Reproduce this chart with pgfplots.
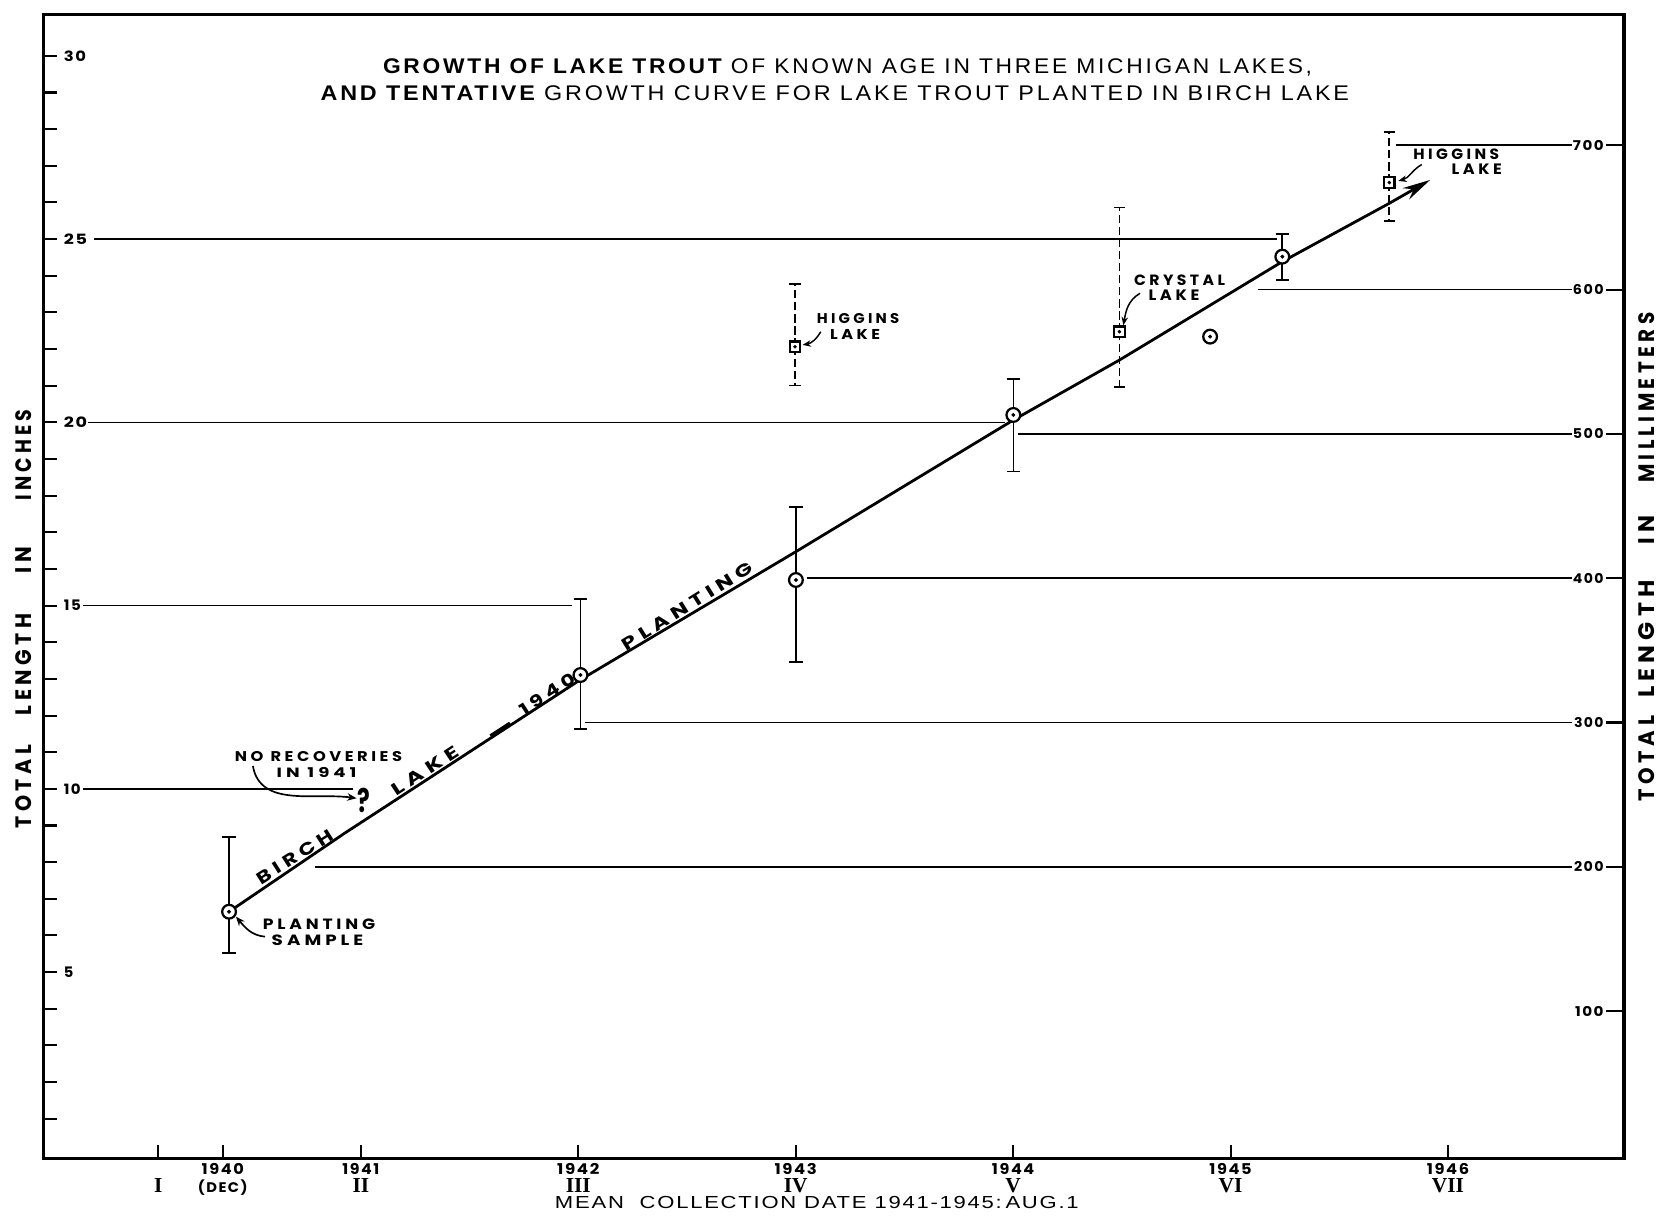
\documentclass[border=0pt]{standalone}
\usepackage{fontspec}
\usepackage{pgfplots}
\pgfplotsset{compat=1.18}
\usepackage{graphicx}
\usetikzlibrary{arrows.meta}
\setmainfont{Poppins}
\newfontfamily\lblfont[LetterSpace=22]{Poppins}
\newfontfamily\ttlfont[LetterSpace=12]{Liberation Sans}
\newfontfamily\xlfont[LetterSpace=8]{Liberation Sans}
\newfontfamily\romfont{Liberation Serif}
\newfontfamily\numfont[LetterSpace=10]{Poppins}
\newlength\px \setlength\px{0.02cm}
\newcommand\fit[3]{\resizebox{#1\px}{#2\px}{#3}}
\newcommand\yr[1]{\fit{40}{10.5}{\numfont\bfseries #1}}
\newcommand\rn[1]{{\romfont\bfseries\fontsize{11.5}{10}\selectfont #1}}
\newcommand\lab[3]{\fit{#1}{#2}{\lblfont\bfseries #3}}
\newcommand\tl[2]{\fit{#1}{10}{\numfont\bfseries #2}}
\newcommand\tr[2]{\fit{#1}{9.5}{\numfont\bfseries #2}}

\pgfplotstableread{
x y ep em
1940.394 6.648 2.030 1.134
1942.010 13.106 2.073 1.476
1943.001 15.699 1.983 2.229
1944.001 20.202 0.982 1.547
1945.238 24.521 0.618 0.635
}\birch
\pgfplotstableread{
x y
1944.906 22.339
}\extra
\pgfplotstableread{
x y ep em
1942.997 22.064 1.703 1.062
1944.489 22.474 3.392 1.516
1945.730 26.542 1.388 1.040
}\others
\pgfplotstableread{
x y
1940.394 6.648
1940.925 8.788
1942.005 12.960
1943.001 16.472
1944.001 20.063
1944.489 21.700
1945.238 24.385
1945.730 25.976
1945.918 26.614
}\trend

\begin{document}
\begin{tikzpicture}
\path[use as bounding box] (-41\px,-54\px) rectangle (1527\px,1095\px);
\begin{axis}[
  at={(0,0)}, anchor=south west,
  width=1494\px, height=1081\px, scale only axis,
  xmin=1939.540, xmax=1946.810, ymin=-0.0866, ymax=31.120,
  clip=false,
  axis line style={line width=1.8pt},
  tick align=inside,
  xtick pos=left, ytick pos=left,
  major tick length=12.5\px, minor tick length=12.5\px,
  tick style={black, line width=1.1pt},
  ytick={5,10,15,20,25,30},
  yticklabels={\tl{9}{5},\tl{16}{10},\tl{16}{15},\tl{22}{20},\tl{22}{25},\tl{21}{30}},
  minor ytick={1,2,3,4,6,7,8,9,11,12,13,14,16,17,18,19,21,22,23,24,26,27,28,29},
  yticklabel style={anchor=west, inner sep=0pt, xshift=19\px},
  xtick={1940.069,1940.365,1941,1942,1943,1944,1945,1946},
  xticklabels={
    {\phantom{\yr{1940}}\\\rn{I}},
    {\yr{1940}\\\fit{47}{12}{\numfont\bfseries(DEC)}},
    {\fit{35}{10.5}{\numfont\bfseries 1941}\\\rn{II}},
    {\yr{1942}\\\rn{III}},
    {\yr{1943}\\\rn{IV}},
    {\yr{1944}\\\rn{V}},
    {\yr{1945}\\\rn{VI}},
    {\yr{1946}\\\rn{VII}}},
  xticklabel style={anchor=north, inner sep=0pt, yshift=-4\px, align=center, font=\fontsize{8}{10}\selectfont},
  grid line/.style={line width=0.9pt, black, forget plot},
]
% partial horizontal guide lines (inches)
\addplot[grid line] coordinates {(1939.7737,25) (1945.2127,25)};
\addplot[grid line] coordinates {(1939.7445,20) (1943.9635,20)};
\addplot[grid line] coordinates {(1939.7202,15) (1941.9732,15)};
\addplot[grid line] coordinates {(1939.7202,10) (1940.9645,10)};
% partial horizontal guide lines (millimetres)
\addplot[grid line] coordinates {(1945.7591,27.5591) (1946.5693,27.5591)};
\addplot[grid line] coordinates {(1945.1251,23.6220) (1946.5693,23.6220)};
\addplot[grid line] coordinates {(1944.0243,19.6850) (1946.5693,19.6850)};
\addplot[grid line] coordinates {(1943.0506,15.7480) (1946.5693,15.7480)};
\addplot[grid line] coordinates {(1942.0316,11.8110) (1946.5693,11.8110)};
\addplot[grid line] coordinates {(1940.7908,7.8740) (1946.5693,7.8740)};

% growth curve
\addplot[line width=1.5pt, black, -{Stealth[length=15pt, width=7pt]}] table[x=x,y=y] {\trend};

% error bars
\addplot[forget plot, draw=none, mark=none, error bars/.cd, y dir=both, y explicit,
  error bar style={draw=black, solid, line width=0.9pt},
  error mark=-, error mark options={rotate=90, draw=black, solid, line width=0.9pt, mark size=3.6pt}]
  table[x=x, y=y, y error plus=ep, y error minus=em] {\birch};
\addplot[forget plot, draw=none, mark=none, error bars/.cd, y dir=both, y explicit,
  error bar style={draw=black, line width=0.9pt, dash pattern=on 4.5pt off 2pt},
  error mark=-, error mark options={rotate=90, draw=black, solid, line width=0.9pt, mark size=3pt}]
  table[x=x, y=y, y error plus=ep, y error minus=em] {\others};

% markers
\addplot[only marks, mark=*, mark size=3.7pt, mark options={fill=white, draw=black, line width=1.2pt}] table[x=x,y=y] {\birch};
\addplot[only marks, mark=*, mark size=3.7pt, mark options={fill=white, draw=black, line width=1.2pt}] table[x=x,y=y] {\extra};
\addplot[only marks, mark=square*, mark size=2.8pt, mark options={fill=white, draw=black, line width=1.2pt}] table[x=x,y=y] {\others};
\addplot[only marks, mark=*, mark size=0.85pt, black] table[x=x,y=y] {\birch};
\addplot[only marks, mark=*, mark size=0.85pt, black] table[x=x,y=y] {\extra};
\addplot[only marks, mark=*, mark size=0.75pt, black] table[x=x,y=y] {\others};

% title
\node[anchor=base, inner sep=0pt] at (axis cs:1943.2384,29.530) {\fit{878}{14}{\ttlfont{\bfseries GROWTH OF LAKE TROUT} OF KNOWN AGE IN THREE MICHIGAN LAKES,}};
\node[anchor=base, inner sep=0pt] at (axis cs:1943.180,28.770) {\fit{972}{14}{\ttlfont{\bfseries AND TENTATIVE} GROWTH CURVE FOR LAKE TROUT PLANTED IN BIRCH LAKE}};

% axis titles
\node[rotate=90, inner sep=0pt] at (axis cs:1939.4477,14.636) {\lab{79}{15}{TOTAL}\hspace{28\px}\lab{96}{15}{LENGTH}\hspace{38\px}\lab{25}{15}{IN}\hspace{44\px}\lab{86}{15}{INCHES}};
\node[rotate=90, inner sep=0pt] at (axis cs:1946.9124,16.325) {\lab{81}{15}{TOTAL}\hspace{17\px}\lab{111}{15}{LENGTH}\hspace{34\px}\lab{27}{15}{IN}\hspace{31\px}\lab{161}{15}{MILLIMETERS}};
\node[inner sep=0pt] at (axis cs:1943.0974,-1.2875) {\fit{495}{11.5}{\xlfont MEAN\ \ COLLECTION DATE 1941-1945:\,AUG.1}};

% text along the curve
\node[rotate=32.5, inner sep=0pt] at (axis cs:1940.6973,8.1496) {\lab{82}{11.5}{BIRCH}};
\node[rotate=33.4, inner sep=0pt] at (axis cs:1941.2954,10.4908) {\lab{72}{11.5}{LAKE}};
\node[rotate=33, inner sep=0pt] at (axis cs:1941.6404,11.6252) {\rule{22\px}{2.6\px}};
\node[rotate=33, inner sep=0pt] at (axis cs:1941.8579,12.5837) {\lab{60}{11.5}{1940}};
\node[rotate=32, inner sep=0pt] at (axis cs:1942.5012,14.9827) {\lab{142}{11.5}{PLANTING}};

% annotations
\node[inner sep=0pt] at (axis cs:1940.8054,10.8834) {\lab{158}{9.5}{NO RECOVERIES}};
\node[inner sep=0pt] at (axis cs:1940.7966,10.4503) {\lab{75.5}{9.5}{IN 1941}};
\node[inner sep=0pt] at (axis cs:1941.0117,9.6710) {\fit{12}{23}{\bfseries ?}};
\draw[line width=0.9pt, -{Stealth[length=5pt, width=4pt]}] (axis cs:1940.5036,10.6236) to[out=-80,in=172] (axis cs:1940.9805,9.7432);

\node[inner sep=0pt] at (axis cs:1940.8078,6.3164) {\lab{106}{10}{PLANTING}};
\node[inner sep=0pt] at (axis cs:1940.8010,5.8603) {\lab{86.6}{10}{SAMPLE}};
\draw[line width=0.9pt, -{Stealth[length=5pt, width=4pt]}] (axis cs:1940.5596,5.9671) to[out=175,in=-50] (axis cs:1940.4258,6.5127);

\node[inner sep=0pt] at (axis cs:1943.2871,22.8204) {\lab{78}{9.5}{HIGGINS}};
\node[inner sep=0pt] at (axis cs:1943.2735,22.3845) {\lab{47.3}{9.5}{LAKE}};
\draw[line width=0.8pt, -{Stealth[length=4.5pt, width=3.5pt]}] (axis cs:1943.1153,22.4740) to[out=240,in=10] (axis cs:1943.0316,22.1132);

\node[inner sep=0pt] at (axis cs:1944.7655,23.8684) {\lab{86}{10}{CRYSTAL}};
\node[inner sep=0pt] at (axis cs:1944.7397,23.4700) {\lab{48}{10}{LAKE}};
\draw[line width=0.8pt, -{Stealth[length=4.5pt, width=3.5pt]}] (axis cs:1944.5839,23.5219) to[out=210,in=80] (axis cs:1944.5070,22.6487);

\node[inner sep=0pt] at (axis cs:1946.0384,27.3268) {\lab{81}{10}{HIGGINS}};
\node[inner sep=0pt] at (axis cs:1946.1324,26.8995) {\lab{47.4}{10}{LAKE}};
\draw[line width=0.8pt, -{Stealth[length=4.5pt, width=3.5pt]}] (axis cs:1945.8793,27.0352) to[out=210,in=15] (axis cs:1945.7713,26.5878);
\end{axis}

\begin{axis}[
  at={(0,0)}, anchor=south west,
  width=1494\px, height=1081\px, scale only axis,
  xmin=0, xmax=1, ymin=-2.2, ymax=790.45,
  hide x axis, axis y line*=right,
  axis line style={line width=1.8pt},
  tick align=inside, major tick length=17\px,
  tick style={black, line width=1.1pt},
  ytick={100,200,300,400,500,600,700},
  yticklabels={\tr{27}{100},\tr{28}{200},\tr{28}{300},\tr{29}{400},\tr{29}{500},\tr{29}{600},\tr{29}{700}},
  yticklabel style={anchor=east, inner sep=0pt, xshift=-19\px},
]
\addplot[draw=none, forget plot] coordinates {(0.5,100)};
\end{axis}
\end{tikzpicture}
\end{document}
